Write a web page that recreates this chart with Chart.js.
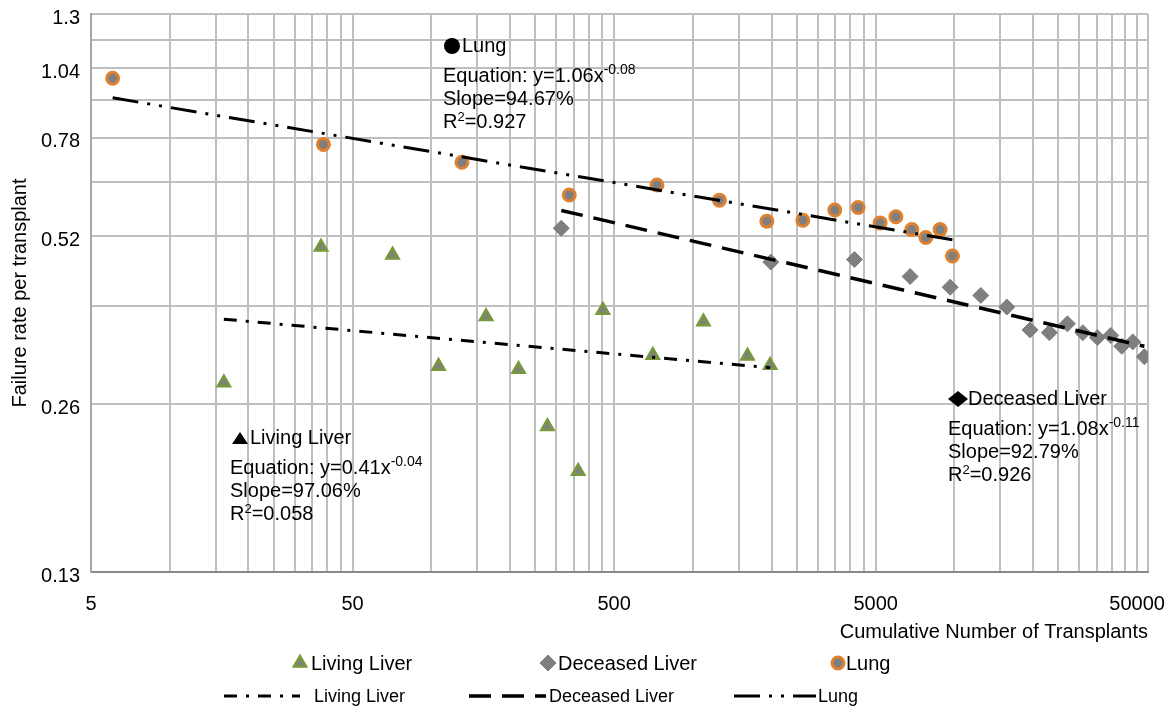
<!DOCTYPE html>
<html>
<head>
<meta charset="utf-8">
<script src="https://cdn.jsdelivr.net/npm/chart.js@4.4.0/dist/chart.umd.min.js"></script>
<style>
  html, body { margin: 0; padding: 0; background: #fff; }
  #wrap { width: 1175px; height: 708px; position: relative; }
</style>
</head>
<body>
<div id="wrap"><canvas id="grafico"></canvas></div>
<script>
// eixos (log-log)
const xGrid = [5, 10, 15, 20, 25, 30, 35, 40, 45, 50, 100, 150, 200, 250, 300, 350, 400, 450, 500,
  1000, 1500, 2000, 2500, 3000, 3500, 4000, 4500, 5000,
  10000, 15000, 20000, 25000, 30000, 35000, 40000, 45000, 50000, 55000];
const xLabels = [5, 50, 500, 5000, 50000];
const yGrid = [0.13, 0.26, 0.39, 0.52, 0.65, 0.78, 0.91, 1.04, 1.17, 1.3];
const yLabels = [0.13, 0.26, 0.52, 0.78, 1.04, 1.3];

// Living Liver
const livingX = [16.1, 37.9, 71.1, 106.6, 162, 215.6, 278, 364.5, 453, 703, 1098, 1618, 1975];
const livingY = [0.284, 0.497, 0.481, 0.304, 0.373, 0.300, 0.237, 0.197, 0.383, 0.318, 0.365, 0.317, 0.305];

// Deceased Liver
const deceasedX = [314, 1987, 4149, 6773, 9637, 12620, 15870, 19480, 23080, 27050, 30980, 35230, 39620, 43650, 48090, 53270];
const deceasedY = [0.537, 0.467, 0.472, 0.440, 0.421, 0.407, 0.388, 0.353, 0.349, 0.362, 0.349, 0.342, 0.345, 0.330, 0.336, 0.316];

// Lung
const lungX = [6.05, 38.7, 131, 337, 729, 1264, 1919, 2634, 3490, 4286, 5200, 5977, 6876, 7780, 8821, 9830];
const lungY = [0.997, 0.759, 0.705, 0.616, 0.642, 0.603, 0.553, 0.555, 0.579, 0.585, 0.549, 0.563, 0.534, 0.517, 0.534, 0.479];

// linhas de tendência (potência = reta em log-log, só as pontas)
const livingTrendX = [16.1, 1975];
const livingTrendY = [0.369, 0.302];
const deceasedTrendX = [314, 53270];
const deceasedTrendY = [0.578, 0.330];
const lungTrendX = [6.05, 9830];
const lungTrendY = [0.920, 0.512];

const fonte = '"Liberation Sans", Arial, "DejaVu Sans", sans-serif';
const pts = (xs, ys) => xs.map((x, i) => ({ x: x, y: ys[i] }));

function forma(ctx, tipo, x, y, w, h) {
    ctx.beginPath();
    if (tipo === 'circle') {
        ctx.arc(x, y, w / 2, 0, Math.PI * 2);
    } else if (tipo === 'triangle') {
        ctx.moveTo(x, y - h / 2);
        ctx.lineTo(x + w / 2, y + h / 2);
        ctx.lineTo(x - w / 2, y + h / 2);
        ctx.closePath();
    } else {
        ctx.moveTo(x, y - h / 2);
        ctx.lineTo(x + w / 2, y);
        ctx.lineTo(x, y + h / 2);
        ctx.lineTo(x - w / 2, y);
        ctx.closePath();
    }
}

// blocos de texto com a equação de cada série
function blocoEquacao(ctx, b) {
    const f = '20px ' + fonte;
    ctx.fillStyle = '#000';
    forma(ctx, b.simbolo, b.sx, b.y, b.sw, b.sh);
    ctx.fill();
    ctx.font = f;
    ctx.textAlign = 'left';
    ctx.textBaseline = 'middle';
    ctx.fillText(b.nome, b.tx, b.y);
    const y1 = b.y + 30;
    const eq = 'Equation: y=' + b.coef + 'x';
    ctx.fillText(eq, b.x, y1);
    const w = ctx.measureText(eq).width;
    ctx.font = '14px ' + fonte;
    ctx.fillText(b.exp, b.x + w, y1 - 6);
    ctx.font = f;
    ctx.fillText('Slope=' + b.slope, b.x, y1 + 23.5);
    const y3 = y1 + 46.5;
    ctx.fillText('R', b.x, y3);
    const wr = ctx.measureText('R').width;
    ctx.font = '13px ' + fonte;
    ctx.fillText('2', b.x + wr, y3 - 5);
    const w2 = ctx.measureText('2').width;
    ctx.font = f;
    ctx.fillText('=' + b.r2, b.x + wr + w2, y3);
}

const textosGrafico = {
    id: 'textosGrafico',
    afterDraw(chart) {
        const ctx = chart.ctx;
        ctx.save();
        blocoEquacao(ctx, { simbolo: 'circle', sx: 452, sw: 16, sh: 16, tx: 462, x: 443, y: 46,
            nome: 'Lung', coef: '1.06', exp: '-0.08', slope: '94.67%', r2: '0.927' });
        blocoEquacao(ctx, { simbolo: 'triangle', sx: 240, sw: 16, sh: 12, tx: 250, x: 230, y: 438,
            nome: 'Living Liver', coef: '0.41', exp: '-0.04', slope: '97.06%', r2: '0.058' });
        blocoEquacao(ctx, { simbolo: 'diamond', sx: 958, sw: 20, sh: 16, tx: 968, x: 948, y: 399,
            nome: 'Deceased Liver', coef: '1.08', exp: '-0.11', slope: '92.79%', r2: '0.926' });

        // legenda de baixo: marcadores (linha 1) e tendências (linha 2)
        const ds = chart.data.datasets;
        const linha1 = [[0, 300, 311], [1, 548, 558], [2, 838, 846]];
        ctx.textBaseline = 'middle';
        ctx.textAlign = 'left';
        linha1.forEach(([i, mx, tx]) => {
            const d = ds[i];
            ctx.fillStyle = d.pointBackgroundColor;
            ctx.strokeStyle = d.pointBorderColor;
            ctx.lineWidth = d.pointBorderWidth;
            Chart.helpers.drawPoint(ctx, { pointStyle: d.pointStyle, radius: d.pointRadius, borderWidth: d.pointBorderWidth, rotation: 0 }, mx, 663);
            ctx.fillStyle = '#000';
            ctx.font = '20px ' + fonte;
            ctx.fillText(d.label, tx, 664);
        });
        const linha2 = [[3, 224, 300, 314], [4, 469, 546, 549], [5, 734, 816, 818]];
        linha2.forEach(([i, x1, x2, tx]) => {
            const d = ds[i];
            ctx.strokeStyle = d.borderColor;
            ctx.lineWidth = d.borderWidth;
            ctx.setLineDash(d.borderDash);
            ctx.beginPath();
            ctx.moveTo(x1, 696);
            ctx.lineTo(x2, 696);
            ctx.stroke();
            ctx.setLineDash([]);
            ctx.fillStyle = '#000';
            ctx.font = '18px ' + fonte;
            ctx.fillText(d.label, tx, 697);
        });
        ctx.restore();
    }
};

new Chart(document.getElementById('grafico'), {
    type: 'scatter',
    data: {
        datasets: [
            {
                label: 'Living Liver',
                data: pts(livingX, livingY),
                pointStyle: 'triangle',
                pointRadius: 7,
                pointBackgroundColor: '#7F7F7F',
                pointBorderColor: '#77993C',
                pointBorderWidth: 2.5,
                order: 1
            },
            {
                label: 'Deceased Liver',
                data: pts(deceasedX, deceasedY),
                pointStyle: 'rectRot',
                pointRadius: 8,
                pointBackgroundColor: '#7F7F7F',
                pointBorderColor: '#7F7F7F',
                pointBorderWidth: 1,
                order: 1
            },
            {
                label: 'Lung',
                data: pts(lungX, lungY),
                pointStyle: 'circle',
                pointRadius: 6,
                pointBackgroundColor: '#7F7F7F',
                pointBorderColor: '#E0812F',
                pointBorderWidth: 3,
                order: 1
            },
            {
                label: 'Living Liver',
                data: pts(livingTrendX, livingTrendY),
                showLine: true,
                pointRadius: 0,
                borderColor: '#000',
                borderWidth: 3,
                borderDash: [13, 9, 3, 9],
                order: 0
            },
            {
                label: 'Deceased Liver',
                data: pts(deceasedTrendX, deceasedTrendY),
                showLine: true,
                pointRadius: 0,
                borderColor: '#000',
                borderWidth: 3.5,
                borderDash: [22, 11],
                order: 0
            },
            {
                label: 'Lung',
                data: pts(lungTrendX, lungTrendY),
                showLine: true,
                pointRadius: 0,
                borderColor: '#000',
                borderWidth: 3,
                borderDash: [26, 9, 3, 9, 3, 9],
                order: 0
            }
        ]
    },
    options: {
        responsive: true,
        maintainAspectRatio: false,
        animation: false,
        layout: { padding: { top: 14, right: 27, left: 0, bottom: 0 } },
        scales: {
            x: {
                type: 'logarithmic',
                min: 5,
                max: 55000,
                afterBuildTicks: s => { s.ticks = xGrid.map(v => ({ value: v })); },
                afterFit: s => { s.height = 136; },
                ticks: {
                    autoSkip: false,
                    maxRotation: 0,
                    padding: 20,
                    color: '#000',
                    font: { family: fonte, size: 20 },
                    callback: v => xLabels.includes(v) ? String(v) : ''
                },
                grid: { color: '#BFBFBF', lineWidth: 2, drawTicks: false },
                border: { color: '#898989', width: 2 },
                title: {
                    display: true,
                    text: 'Cumulative Number of Transplants',
                    align: 'end',
                    color: '#000',
                    font: { family: fonte, size: 20 },
                    padding: { top: 0, bottom: 64 }
                }
            },
            y: {
                type: 'logarithmic',
                min: 0.13,
                max: 1.3,
                afterBuildTicks: s => { s.ticks = yGrid.map(v => ({ value: v })); },
                afterFit: s => { s.width = 91; },
                ticks: {
                    autoSkip: false,
                    padding: 0,
                    labelOffset: 4,
                    color: '#000',
                    font: { family: fonte, size: 20 },
                    callback: v => yLabels.includes(v) ? String(v) : ''
                },
                grid: { color: '#BFBFBF', lineWidth: 2, drawTicks: true, tickLength: 11, tickColor: 'rgba(0,0,0,0)' },
                border: { color: '#A6A6A6', width: 2 },
                title: {
                    display: true,
                    text: 'Failure rate per transplant',
                    color: '#000',
                    font: { family: fonte, size: 20 },
                    padding: { top: 8, bottom: 0 }
                }
            }
        },
        plugins: {
            legend: { display: false },
            tooltip: { enabled: false }
        }
    },
    plugins: [textosGrafico]
});
</script>
</body>
</html>
